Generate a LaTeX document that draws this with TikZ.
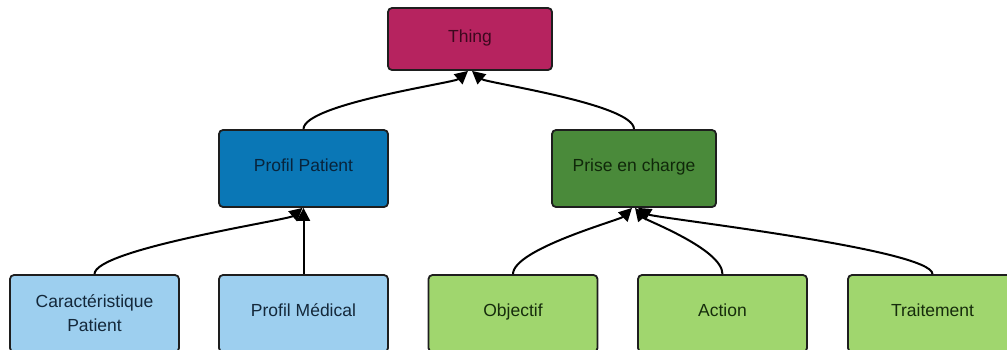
\documentclass[tikz,border=0pt]{standalone}
\usepackage{fontspec}
\setmainfont{Liberation Sans}
\usetikzlibrary{arrows.meta}
\definecolor{thingc}{RGB}{182,35,95}
\definecolor{thingt}{RGB}{60,8,30}
\definecolor{ppc}{RGB}{10,119,182}
\definecolor{ppt}{RGB}{8,36,60}
\definecolor{pecc}{RGB}{74,138,58}
\definecolor{pect}{RGB}{16,40,10}
\definecolor{lblue}{RGB}{157,207,239}
\definecolor{lbluet}{RGB}{20,40,58}
\definecolor{lgreen}{RGB}{160,214,110}
\definecolor{lgreent}{RGB}{22,44,12}
\definecolor{boxline}{RGB}{30,30,30}
\begin{document}
\begin{tikzpicture}[x=1pt,y=-1pt,
  box/.style={draw=boxline, line width=1.8pt, rounded corners=4pt, inner sep=0pt, align=center, font=\fontsize{17.5}{24}\selectfont},
  one/.style={text height=12.5pt, text depth=6pt},
  top/.style={box, one, minimum width=164pt, minimum height=62pt},
  mid/.style={box, one, minimum width=164pt, minimum height=77pt},
  leaf/.style={box, minimum width=169pt, minimum height=77pt},
  link/.style={draw=black, line width=2pt, -{Triangle[length=13pt,width=13pt]}}]
\useasboundingbox (0,0) rectangle (1007,349);
\clip (0,0) rectangle (1007,349);
\node[top, fill=thingc, text=thingt] (thing) at (470,39) {Thing};
\node[mid, minimum width=169pt, fill=ppc, text=ppt] (pp) at (303.5,168.5) {Profil Patient};
\node[mid, fill=pecc, text=pect] (pec) at (634,168.5) {Prise en charge};
\node[leaf, fill=lblue, text=lbluet] (cp) at (94.5,313.5) {Caractéristique\\Patient};
\node[leaf, one, fill=lblue, text=lbluet] (pm) at (303.5,313.5) {Profil Médical};
\node[leaf, one, fill=lgreen, text=lgreent] (obj) at (513,313.5) {Objectif};
\node[leaf, one, fill=lgreen, text=lgreent] (act) at (722.5,313.5) {Action};
\node[leaf, one, fill=lgreen, text=lgreent] (trt) at (932.5,313.5) {Traitement};
\draw[link] (pp.north) .. controls +(0,-25) and +(-14,12) .. ([xshift=-2pt]thing.south);
\draw[link] (pec.north) .. controls +(0,-25) and +(14,12) .. ([xshift=2pt]thing.south);
\draw[link] (cp.north) .. controls +(0,-25) and +(-14,12) .. ([xshift=-1pt]pp.south);
\draw[link] (pm.north) -- (pp.south);
\draw[link] (obj.north) .. controls +(0,-25) and +(-12,12) .. ([xshift=-2pt]pec.south);
\draw[link] (act.north) .. controls +(0,-25) and +(10,12) .. ([xshift=1pt]pec.south);
\draw[link] (trt.north) .. controls +(0,-25) and +(16,10) .. ([xshift=4pt]pec.south);
\end{tikzpicture}
\end{document}
